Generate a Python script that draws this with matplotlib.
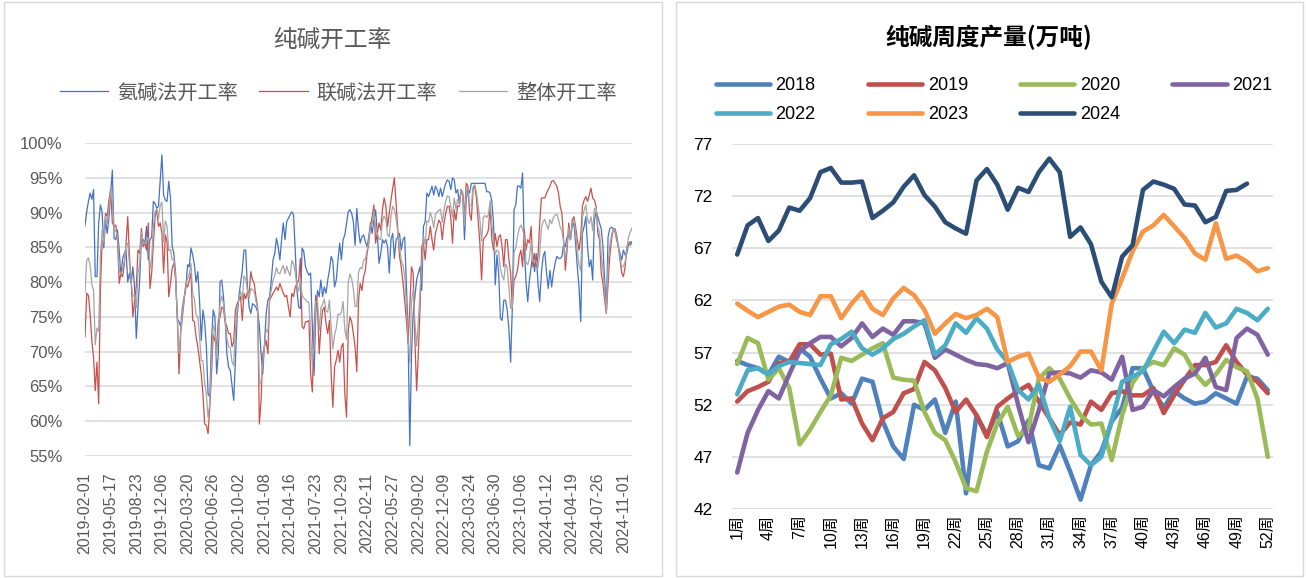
import numpy as np
import matplotlib.pyplot as plt
from matplotlib.patches import Rectangle

plt.rcParams['font.family'] = ['Liberation Sans', 'Noto Sans CJK SC', 'DejaVu Sans']

# ---------------- left chart: weekly operating rate (%) ----------------
# one label every 15 data points (the weekly dates are not perfectly regular)
date_labels = ['2019-02-01', '2019-05-17', '2019-08-23', '2019-12-06', '2020-03-20',
               '2020-06-26', '2020-10-02', '2021-01-08', '2021-04-16', '2021-07-23',
               '2021-10-29', '2022-02-11', '2022-05-27', '2022-09-02', '2022-12-09',
               '2023-03-24', '2023-06-30', '2023-10-06', '2024-01-12', '2024-04-19',
               '2024-07-26', '2024-11-01']
label_step = 15

ammonia_rate = [
    88.1, 90.1, 91.6, 92.8, 91.9, 93.3, 80.8, 80.8, 88.5, 91.1,
    90.1, 84.9, 88.9, 87.0, 89.2, 92.8, 96.1, 86.3, 86.1, 87.5,
    84.6, 80.8, 83.4, 84.1, 84.6, 80.0, 81.3, 79.8, 82.2, 79.3,
    71.9, 76.4, 80.3, 86.5, 86.1, 85.6, 88.0, 83.2, 86.1, 86.5,
    91.6, 91.3, 90.6, 90.9, 94.7, 98.3, 92.5, 91.8, 91.6, 94.5,
    92.1, 85.1, 84.1, 81.3, 74.8, 74.3, 73.6, 76.4, 77.9, 79.1,
    82.5, 82.2, 84.9, 83.9, 82.5, 80.0, 81.5, 77.4, 71.6, 76.0,
    74.3, 70.7, 63.9, 63.5, 71.6, 76.0, 75.0, 66.8, 69.7, 80.0,
    80.3, 77.9, 74.5, 69.7, 67.8, 67.3, 65.1, 63.0, 68.8, 75.0,
    77.9, 79.8, 81.7, 84.6, 84.6, 79.3, 76.4, 75.5, 76.9, 76.7,
    76.4, 75.7, 73.8, 69.7, 66.8, 71.2, 75.5, 77.4, 77.9, 80.3,
    83.2, 84.1, 86.3, 85.1, 83.2, 86.1, 88.5, 86.1, 88.7, 89.2,
    89.7, 90.1, 89.7, 84.6, 78.8, 76.4, 76.2, 84.9, 84.4, 82.2,
    81.5, 81.0, 81.3, 73.6, 66.6, 75.5, 78.8, 77.9, 80.3, 77.9,
    79.3, 78.4, 80.3, 81.7, 83.7, 83.0, 79.3, 80.3, 83.2, 85.6,
    83.2, 86.1, 86.8, 88.5, 90.1, 90.4, 89.9, 88.7, 85.3, 90.6,
    87.5, 85.6, 86.5, 86.8, 85.8, 85.1, 86.5, 88.5, 87.0, 88.9,
    90.4, 87.0, 82.7, 84.1, 86.1, 85.6, 86.1, 85.1, 81.3, 86.1,
    87.0, 83.4, 86.1, 86.5, 87.0, 84.6, 86.1, 86.5, 79.8, 72.6,
    56.5, 69.7, 75.5, 77.9, 80.3, 81.3, 82.2, 78.8, 88.0, 88.7,
    92.8, 92.3, 93.0, 93.8, 92.5, 93.8, 93.3, 92.3, 93.5, 92.3,
    93.3, 94.2, 94.7, 94.5, 93.3, 95.0, 94.7, 92.8, 93.3, 91.3,
    93.3, 92.3, 86.1, 91.8, 93.3, 92.8, 94.2, 94.2, 94.2, 94.2,
    94.2, 94.2, 94.2, 94.2, 94.2, 93.0, 93.0, 92.8, 91.6, 88.5,
    79.6, 83.9, 81.3, 74.8, 74.5, 77.4, 77.4, 76.0, 73.1, 68.5,
    76.4, 90.4, 91.1, 93.8, 93.8, 93.5, 95.7, 85.0, 80.0, 77.2,
    80.3, 82.2, 84.1, 81.5, 84.1, 79.8, 77.2, 81.3, 83.7, 84.4,
    81.3, 79.1, 81.7, 79.3, 81.3, 82.7, 83.7, 83.4, 83.4, 83.7,
    85.3, 85.1, 86.5, 86.8, 86.1, 88.0, 88.5, 85.6, 82.2, 79.3,
    74.3, 87.0, 88.0, 89.4, 85.1, 82.2, 83.2, 80.3, 88.9, 90.1,
    89.4, 88.5, 87.7, 85.1, 80.3, 76.0, 86.5, 87.7, 87.9, 87.7,
    87.3, 86.1, 85.1, 84.1, 83.2, 84.6, 83.9, 84.1, 85.6, 85.3,
    85.8,
]

joint_rate = [
    72.1, 78.4, 78.1, 75.5, 71.6, 69.2, 64.4, 68.5, 62.5, 78.8,
    85.8, 86.1, 89.9, 89.4, 91.8, 93.3, 88.5, 88.0, 88.2, 86.1,
    79.8, 81.3, 80.8, 82.5, 85.6, 89.4, 83.7, 80.3, 75.0, 77.4,
    79.3, 84.6, 84.1, 87.7, 85.1, 85.6, 84.6, 88.5, 79.1, 81.3,
    85.6, 89.4, 90.4, 88.0, 88.5, 87.0, 81.3, 86.8, 85.8, 77.9,
    79.8, 82.0, 82.7, 80.3, 75.0, 66.8, 72.6, 75.0, 77.4, 79.8,
    79.3, 80.3, 81.3, 74.5, 74.3, 72.1, 70.7, 68.8, 66.8, 63.9,
    59.6, 59.4, 58.2, 62.0, 66.8, 72.4, 71.6, 70.7, 74.5, 75.0,
    76.4, 76.2, 74.3, 73.6, 72.6, 72.6, 70.7, 71.4, 76.0, 76.9,
    77.4, 77.9, 74.5, 78.4, 77.6, 78.6, 78.4, 81.5, 80.3, 79.8,
    77.9, 76.4, 59.6, 63.0, 69.7, 70.7, 71.6, 69.7, 77.4, 77.9,
    78.4, 78.8, 79.3, 78.8, 79.8, 79.1, 78.4, 77.9, 78.1, 76.4,
    75.0, 78.4, 77.9, 79.3, 79.8, 80.3, 83.4, 73.6, 73.3, 74.3,
    74.3, 74.5, 66.8, 64.2, 73.6, 78.1, 76.4, 69.7, 73.6, 76.0,
    76.4, 74.0, 72.6, 74.5, 66.8, 62.0, 67.8, 68.8, 70.2, 68.5,
    70.7, 71.2, 63.9, 60.6, 73.1, 75.0, 74.3, 72.6, 70.7, 67.1,
    77.4, 79.8, 78.8, 80.8, 81.7, 84.1, 85.6, 88.0, 89.4, 91.1,
    85.6, 87.0, 88.5, 87.5, 90.4, 92.1, 90.9, 88.0, 89.9, 91.8,
    93.5, 95.0, 91.3, 87.5, 83.7, 82.2, 80.0, 77.4, 74.5, 71.2,
    76.4, 82.2, 81.3, 71.6, 64.4, 69.7, 76.4, 85.1, 85.6, 83.2,
    86.1, 86.1, 88.0, 86.1, 84.6, 87.0, 88.0, 88.9, 88.5, 86.1,
    88.5, 89.9, 90.9, 90.9, 89.2, 85.6, 90.4, 88.9, 90.9, 90.9,
    93.3, 92.8, 89.4, 94.2, 93.8, 89.9, 88.9, 93.3, 93.8, 92.1,
    88.9, 85.6, 80.3, 86.1, 86.5, 86.8, 87.5, 90.9, 86.1, 84.6,
    87.0, 85.1, 86.5, 86.8, 85.1, 82.2, 86.1, 86.1, 83.2, 81.3,
    76.4, 80.3, 80.8, 81.7, 83.7, 84.6, 82.2, 87.5, 84.6, 86.1,
    85.6, 88.0, 82.2, 84.1, 82.2, 83.7, 88.5, 92.1, 92.1, 92.1,
    92.8, 93.3, 93.8, 94.5, 94.6, 94.2, 93.8, 92.8, 90.9, 89.9,
    86.1, 81.7, 84.6, 88.5, 86.1, 88.9, 89.4, 88.0, 86.1, 84.6,
    86.5, 90.9, 91.8, 92.3, 91.6, 92.5, 93.5, 92.1, 91.8, 90.9,
    87.0, 86.1, 81.3, 79.8, 77.4, 75.5, 79.8, 83.7, 86.1, 87.5,
    87.7, 86.8, 85.1, 83.2, 81.3, 80.8, 82.2, 85.1, 85.6, 85.8,
    85.6,
]

total_rate = [
    78.5, 83.1, 83.5, 82.4, 79.7, 78.8, 71.0, 73.4, 72.9, 83.7,
    87.5, 85.6, 89.5, 88.4, 90.8, 93.1, 91.5, 87.3, 87.4, 86.7,
    81.7, 81.1, 81.8, 83.1, 85.2, 85.6, 82.7, 80.1, 77.9, 78.2,
    76.3, 81.3, 82.6, 87.2, 85.5, 85.6, 86.0, 86.4, 81.9, 83.4,
    88.0, 90.2, 90.5, 89.2, 91.0, 91.5, 85.8, 88.8, 88.1, 84.5,
    84.7, 83.2, 83.3, 80.7, 74.9, 69.8, 73.0, 75.6, 77.6, 79.5,
    80.6, 81.1, 82.7, 78.3, 77.6, 75.3, 75.0, 72.2, 68.7, 68.7,
    65.5, 63.9, 60.5, 62.6, 68.7, 73.8, 73.0, 69.1, 72.6, 77.0,
    78.0, 76.9, 74.4, 72.0, 70.7, 70.5, 68.5, 68.0, 73.1, 76.1,
    77.6, 78.7, 77.4, 80.9, 80.4, 78.9, 77.6, 79.1, 78.9, 78.6,
    77.3, 76.1, 65.3, 65.7, 68.5, 70.9, 73.2, 72.8, 77.6, 78.9,
    80.3, 80.9, 82.1, 81.3, 81.2, 81.9, 82.4, 81.2, 82.3, 81.5,
    80.9, 83.1, 82.6, 81.4, 79.4, 78.7, 80.5, 78.1, 77.7, 77.5,
    77.2, 77.1, 72.6, 68.0, 70.8, 77.1, 77.4, 73.0, 76.3, 76.8,
    77.6, 75.8, 75.7, 77.4, 73.6, 70.4, 72.4, 73.4, 75.4, 75.3,
    75.7, 77.2, 73.1, 71.8, 79.9, 81.2, 80.5, 79.0, 76.5, 76.5,
    81.4, 82.1, 81.9, 83.2, 83.3, 84.5, 86.0, 88.2, 88.4, 90.2,
    87.5, 87.0, 86.2, 86.1, 88.7, 89.5, 89.0, 86.8, 86.5, 89.5,
    90.9, 90.4, 89.2, 87.1, 85.0, 83.2, 82.4, 81.0, 76.6, 71.8,
    68.4, 77.2, 79.0, 74.1, 70.8, 74.3, 78.7, 82.6, 86.6, 85.4,
    88.8, 88.6, 90.0, 89.2, 87.8, 89.7, 90.1, 90.3, 90.5, 88.6,
    90.4, 91.6, 92.4, 92.3, 90.8, 89.4, 92.1, 90.5, 91.9, 91.1,
    93.3, 92.6, 88.1, 93.2, 93.6, 91.1, 91.0, 93.7, 94.0, 92.9,
    91.0, 89.0, 85.9, 89.3, 89.6, 89.3, 89.7, 91.7, 88.3, 86.2,
    84.0, 84.6, 84.4, 82.0, 80.9, 80.3, 82.6, 82.1, 79.2, 76.2,
    76.4, 84.3, 84.9, 86.5, 87.7, 88.2, 87.6, 86.5, 82.8, 82.5,
    83.5, 85.7, 83.0, 83.1, 83.0, 82.1, 84.0, 87.8, 88.7, 89.0,
    88.2, 87.6, 89.0, 88.4, 89.3, 89.6, 89.8, 89.0, 87.9, 87.4,
    85.8, 83.1, 85.4, 87.8, 86.1, 88.5, 89.0, 87.0, 84.5, 82.5,
    81.6, 89.3, 90.3, 91.1, 89.0, 88.4, 89.4, 87.4, 90.6, 90.6,
    88.0, 87.1, 83.9, 81.9, 78.6, 75.7, 82.5, 85.3, 86.8, 87.6,
    87.5, 86.5, 85.1, 83.6, 82.1, 82.3, 82.9, 84.7, 86.5, 87.2,
    87.8,
]

rate_names = ['氨碱法开工率', '联碱法开工率', '整体开工率']
rate_colors = ['#4472C4', '#C9504C', '#A5A5A5']

# ---------------- right chart: weekly output (万吨) ----------------
weeks = list(range(1, 53))
out_2018 = [56.2, 55.8, 55.5, 54.9, 56.6, 56.1, 57.4, 56.6, 54.5, 52.6,
            53.1, 52.1, 54.5, 54.2, 50.4, 48.0, 46.8, 52.0, 51.5, 52.5,
            49.3, 52.3, 43.5, 51.0, 49.1, 51.3, 48.0, 48.5, 50.5, 46.2,
            45.9, 48.1, 45.6, 42.9, 46.2, 47.5, 50.4, 51.7, 55.5, 55.5,
            53.3, 51.7, 53.3, 52.6, 52.1, 52.3, 53.1, 52.6, 52.1, 54.7,
            54.5, 53.4]
out_2019 = [52.3, 53.3, 53.7, 54.2, 56.0, 56.1, 57.8, 57.8, 56.8, 56.9,
            52.5, 52.6, 50.2, 48.6, 50.7, 51.3, 53.1, 53.5, 56.1, 55.3,
            53.6, 51.3, 52.5, 51.0, 48.9, 51.8, 52.6, 53.3, 53.9, 52.3,
            50.7, 49.1, 50.3, 50.1, 52.3, 51.5, 53.1, 53.3, 52.9, 52.9,
            53.6, 51.2, 52.9, 54.4, 55.8, 55.8, 56.1, 57.7, 56.1, 54.9,
            54.2, 53.1]
out_2020 = [55.9, 58.4, 57.9, 54.4, 55.5, 53.6, 48.2, 49.6, 51.3, 52.9,
            56.5, 56.2, 56.8, 57.4, 57.9, 54.6, 54.4, 54.3, 51.3, 49.3,
            48.6, 46.5, 44.0, 43.7, 47.5, 50.2, 51.8, 49.0, 49.8, 54.5,
            55.5, 54.5, 52.6, 51.0, 50.1, 50.2, 46.7, 51.0, 54.1, 55.5,
            56.1, 55.8, 57.4, 56.8, 55.0, 53.9, 54.9, 56.3, 55.6, 55.2,
            52.6, 47.0]
out_2021 = [45.5, 49.3, 51.5, 53.3, 52.6, 54.9, 57.1, 57.9, 58.5, 58.5,
            57.6, 58.4, 59.8, 58.5, 59.3, 58.7, 60.0, 60.0, 59.8, 56.5,
            57.3, 56.8, 56.3, 55.9, 55.8, 55.5, 56.0, 52.0, 48.4, 51.5,
            55.0, 55.1, 55.0, 54.6, 55.3, 55.1, 54.4, 56.6, 51.5, 51.8,
            53.4, 52.8, 53.7, 54.5, 55.0, 56.5, 53.7, 53.4, 58.4, 59.3,
            58.7, 56.8]
out_2022 = [53.0, 55.3, 55.5, 54.9, 55.7, 56.1, 56.0, 55.9, 55.8, 57.8,
            58.3, 59.0, 57.4, 56.8, 57.4, 58.3, 58.8, 59.5, 60.1, 56.8,
            57.7, 59.8, 58.9, 60.3, 59.3, 57.3, 56.1, 53.4, 52.5, 53.9,
            50.7, 48.5, 51.8, 47.2, 46.2, 47.0, 50.5, 54.2, 54.7, 55.2,
            57.1, 59.0, 57.9, 59.2, 58.9, 60.8, 59.4, 59.8, 61.2, 60.8,
            60.1, 61.2]
out_2023 = [61.7, 61.0, 60.4, 60.9, 61.4, 61.6, 60.9, 60.6, 62.4, 62.4,
            60.3, 61.7, 62.8, 61.2, 60.6, 62.2, 63.2, 62.5, 61.1, 58.8,
            59.8, 60.7, 60.3, 60.6, 61.2, 60.4, 56.1, 56.6, 56.9, 54.6,
            54.2, 54.9, 55.7, 57.1, 57.1, 55.3, 61.7, 64.1, 66.7, 68.6,
            69.2, 70.2, 69.1, 68.0, 66.5, 65.9, 69.4, 66.0, 66.3, 65.7,
            64.8, 65.1]
out_2024 = [66.4, 69.2, 69.9, 67.7, 68.7, 70.9, 70.6, 71.8, 74.3, 74.7,
            73.3, 73.3, 73.4, 69.9, 70.6, 71.4, 72.9, 74.0, 72.1, 71.0,
            69.5, 68.9, 68.4, 73.5, 74.6, 73.1, 70.7, 72.8, 72.4, 74.3,
            75.6, 74.3, 68.1, 69.0, 67.4, 63.8, 62.3, 66.2, 67.3, 72.6,
            73.4, 73.1, 72.7, 71.2, 71.1, 69.5, 70.0, 72.5, 72.6, 73.2]

years = ['2018', '2019', '2020', '2021', '2022', '2023', '2024']
year_colors = ['#4F81BD', '#C0504D', '#9BBB59', '#8064A2',
               '#4BACC6', '#F79646', '#2C4D75']

W, H = 1306, 578
fig = plt.figure(figsize=(W / 100, H / 100), dpi=100)

# chart frames
fig.patches.append(Rectangle((4 / W, 2 / H), 658 / W, 574 / H, transform=fig.transFigure,
                             fill=False, ec='#D9D9D9', lw=1))
fig.patches.append(Rectangle((676 / W, 2 / H), 627 / W, 574 / H, transform=fig.transFigure,
                             fill=False, ec='#D9D9D9', lw=1))

# ---------------- left chart ----------------
ax1 = fig.add_axes([85 / W, 1 - 456 / H, 547 / W, 313 / H])
x = np.arange(len(ammonia_rate))
for vals, name, c in zip([ammonia_rate, joint_rate, total_rate], rate_names, rate_colors):
    ax1.plot(x, vals, color=c, lw=0.9, label=name)
ax1.set_xlim(0, len(x) - 1)
ax1.set_ylim(55, 100)
ax1.set_yticks(range(55, 101, 5))
ax1.set_yticklabels([f'{v}%' for v in range(55, 101, 5)])
ax1.set_xticks(x[::label_step][:len(date_labels)])
ax1.set_xticklabels(date_labels, rotation=90)
ax1.grid(axis='y', color='#D9D9D9', lw=1.1)
ax1.set_axisbelow(True)
for s in ax1.spines.values():
    s.set_visible(False)
ax1.tick_params(axis='y', length=0, pad=16, labelsize=12, labelcolor='#595959')
ax1.tick_params(axis='x', length=0, pad=12, labelsize=11.5, labelcolor='#595959')

fig.text(332 / W, 1 - 40 / H, '纯碱开工率', ha='center', va='center', fontsize=17,
         color='#595959', family=['Noto Sans CJK SC'])
ax1.legend(loc='center left', bbox_to_anchor=(60 / W, 1 - 93 / H), bbox_transform=fig.transFigure,
           ncol=3, frameon=False, handlelength=2.4, handletextpad=0.45,
           columnspacing=1.05, borderpad=0, borderaxespad=0, labelcolor='#595959',
           prop={'family': ['Noto Sans CJK SC'], 'size': 14.5})

# ---------------- right chart ----------------
ax2 = fig.add_axes([732 / W, 1 - 509 / H, 541 / W, 365 / H])
handles = []
for vals, name, c in zip([out_2018, out_2019, out_2020, out_2021, out_2022, out_2023, out_2024],
                         years, year_colors):
    ln, = ax2.plot(weeks[:len(vals)], vals, color=c, lw=3.3, label=name,
                   solid_joinstyle='round', solid_capstyle='round')
    handles.append(ln)
ax2.set_xlim(0.5, 52.5)
ax2.set_ylim(42, 77)
ax2.set_yticks(range(42, 78, 5))
ax2.set_xticks(weeks[::3])
ax2.set_xticklabels([f'{w}周' for w in weeks[::3]], rotation=90,
                    family=['Liberation Sans', 'Noto Sans CJK SC'])
ax2.grid(axis='y', color='#D9D9D9', lw=1.1)
ax2.set_axisbelow(True)
for s in ax2.spines.values():
    s.set_visible(False)
ax2.tick_params(axis='y', length=0, pad=14, labelsize=12.5, labelcolor='black')
ax2.tick_params(axis='x', length=0, pad=4, labelsize=11.5, labelcolor='black')

fig.text(989 / W, 1 - 37 / H, '纯碱周度产量(万吨)', ha='center', va='center', fontsize=17,
         fontweight='bold', color='black', family=['Noto Sans CJK SC'])
# legend fills column by column, so reorder to read 2018..2021 on the first row
order = [0, 4, 1, 5, 2, 6, 3]
ax2.legend([handles[i] for i in order], [years[i] for i in order],
           loc='center left', bbox_to_anchor=(716 / W, 1 - 100 / H), bbox_transform=fig.transFigure,
           ncol=4, frameon=False, fontsize=13, handlelength=3.0, handletextpad=0.3,
           columnspacing=2.9, labelspacing=0.65, borderpad=0, borderaxespad=0)

fig.savefig('out.png', dpi=100)
